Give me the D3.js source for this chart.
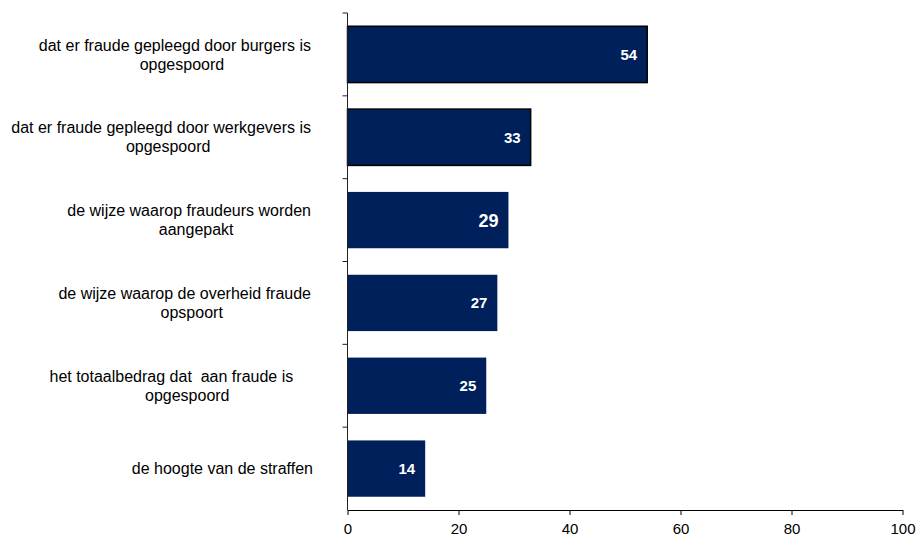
<!DOCTYPE html>
<html>
<head>
<meta charset="utf-8">
<script src="https://cdn.jsdelivr.net/npm/d3@7"></script>
<style>
  body { margin: 0; background: #fff; }
  svg { display: block; }
  text { font-family: "Liberation Sans", Arial, sans-serif; }
</style>
</head>
<body>
<div id="chart-area"></div>
<script>
// categories (wrapped as in the original), top to bottom
const categories = [
  ["dat er fraude gepleegd door burgers is", "opgespoord"],
  ["dat er fraude gepleegd door werkgevers is", "opgespoord"],
  ["de wijze waarop fraudeurs worden", "aangepakt"],
  ["de wijze waarop de overheid fraude", "opspoort"],
  ["het totaalbedrag dat  aan fraude is    ", "opgespoord"],
  ["de hoogte van de straffen"]
];
const values = [54, 33, 29, 27, 25, 14];
const xTicks = [0, 20, 40, 60, 80, 100];

const chartWidth = 916;
const chartHeight = 536;
const margin = {top: 13, right: 13.5, bottom: 26, left: 347.5};
const barColor = "#00205c";

const svg = d3.select("#chart-area").append("svg")
    .attr("width", chartWidth)
    .attr("height", chartHeight);

const keys = categories.map(d => d.join(" "));

const x = d3.scaleLinear()
    .domain([0, 100])
    .range([margin.left, chartWidth - margin.right]);

const y = d3.scaleBand()
    .domain(keys)
    .range([margin.top, chartHeight - margin.bottom])
    .paddingInner(0.32)
    .paddingOuter(0.16);

const step = y.step();
const bandTop = k => y(k) - y.paddingInner() * step / 2;

// bars
svg.append("g")
    .selectAll("rect")
    .data(values)
    .join("rect")
    .attr("x", x(0))
    .attr("y", (d, i) => y(keys[i]))
    .attr("width", d => x(d) - x(0))
    .attr("height", y.bandwidth())
    .attr("fill", barColor)
    .attr("stroke", (d, i) => i < 2 ? "#000" : "none")
    .attr("stroke-width", 1.5);

// value labels inside the bars
svg.append("g")
    .selectAll("text")
    .data(values)
    .join("text")
    .attr("x", d => x(d) - 10)
    .attr("y", (d, i) => y(keys[i]) + y.bandwidth() / 2)
    .attr("dy", "0.36em")
    .attr("text-anchor", "end")
    .attr("fill", "#fff")
    .attr("font-weight", "bold")
    .attr("font-size", d => d === 29 ? "18px" : "15px")
    .text(d => d);

// y axis: line + ticks at band boundaries
const yAxis = svg.append("g").attr("stroke", "#222").attr("stroke-width", 1);
yAxis.append("line")
    .attr("x1", x(0)).attr("x2", x(0))
    .attr("y1", margin.top).attr("y2", chartHeight - margin.bottom);
const bounds = keys.map(bandTop);
yAxis.selectAll(".tick")
    .data(bounds)
    .join("line")
    .attr("class", "tick")
    .attr("x1", x(0) - 5).attr("x2", x(0))
    .attr("y1", d => d).attr("y2", d => d);

// x axis
const xAxis = d3.axisBottom(x)
    .tickValues(xTicks)
    .tickSize(5)
    .tickPadding(8)
    .tickSizeOuter(0);

svg.append("g")
    .attr("transform", `translate(0, ${chartHeight - margin.bottom})`)
    .call(xAxis)
    .call(g => g.select(".domain").attr("stroke", "#000"))
    .call(g => g.selectAll(".tick line").attr("stroke", "#000"))
    .call(g => g.selectAll(".tick text")
        .attr("font-family", "Liberation Sans, Arial, sans-serif")
        .attr("font-size", "15px")
        .attr("fill", "#000"));

// category labels: wrapped lines centred in a right-aligned block
const labelRight = 311;
const lineHeight = 19;
const labels = svg.append("g")
    .attr("font-size", "16px")
    .attr("fill", "#000");

categories.forEach((lines, i) => {
  const cy = y(keys[i]) + y.bandwidth() / 2;
  const t = labels.append("text")
      .attr("xml:space", "preserve")
      .attr("y", cy - (lines.length - 1) * lineHeight / 2)
      .attr("dy", "0.35em");
  if (lines.length === 1) {
    t.attr("x", labelRight + 2).attr("text-anchor", "end").text(lines[0]);
    return;
  }
  const first = t.append("tspan").attr("text-anchor", "end").attr("x", labelRight).text(lines[0]);
  const w = first.node().getComputedTextLength();
  const center = labelRight - w / 2 + 7;
  t.append("tspan")
      .attr("x", center)
      .attr("dy", lineHeight)
      .attr("text-anchor", "middle")
      .text(lines[1]);
});
</script>
</body>
</html>
